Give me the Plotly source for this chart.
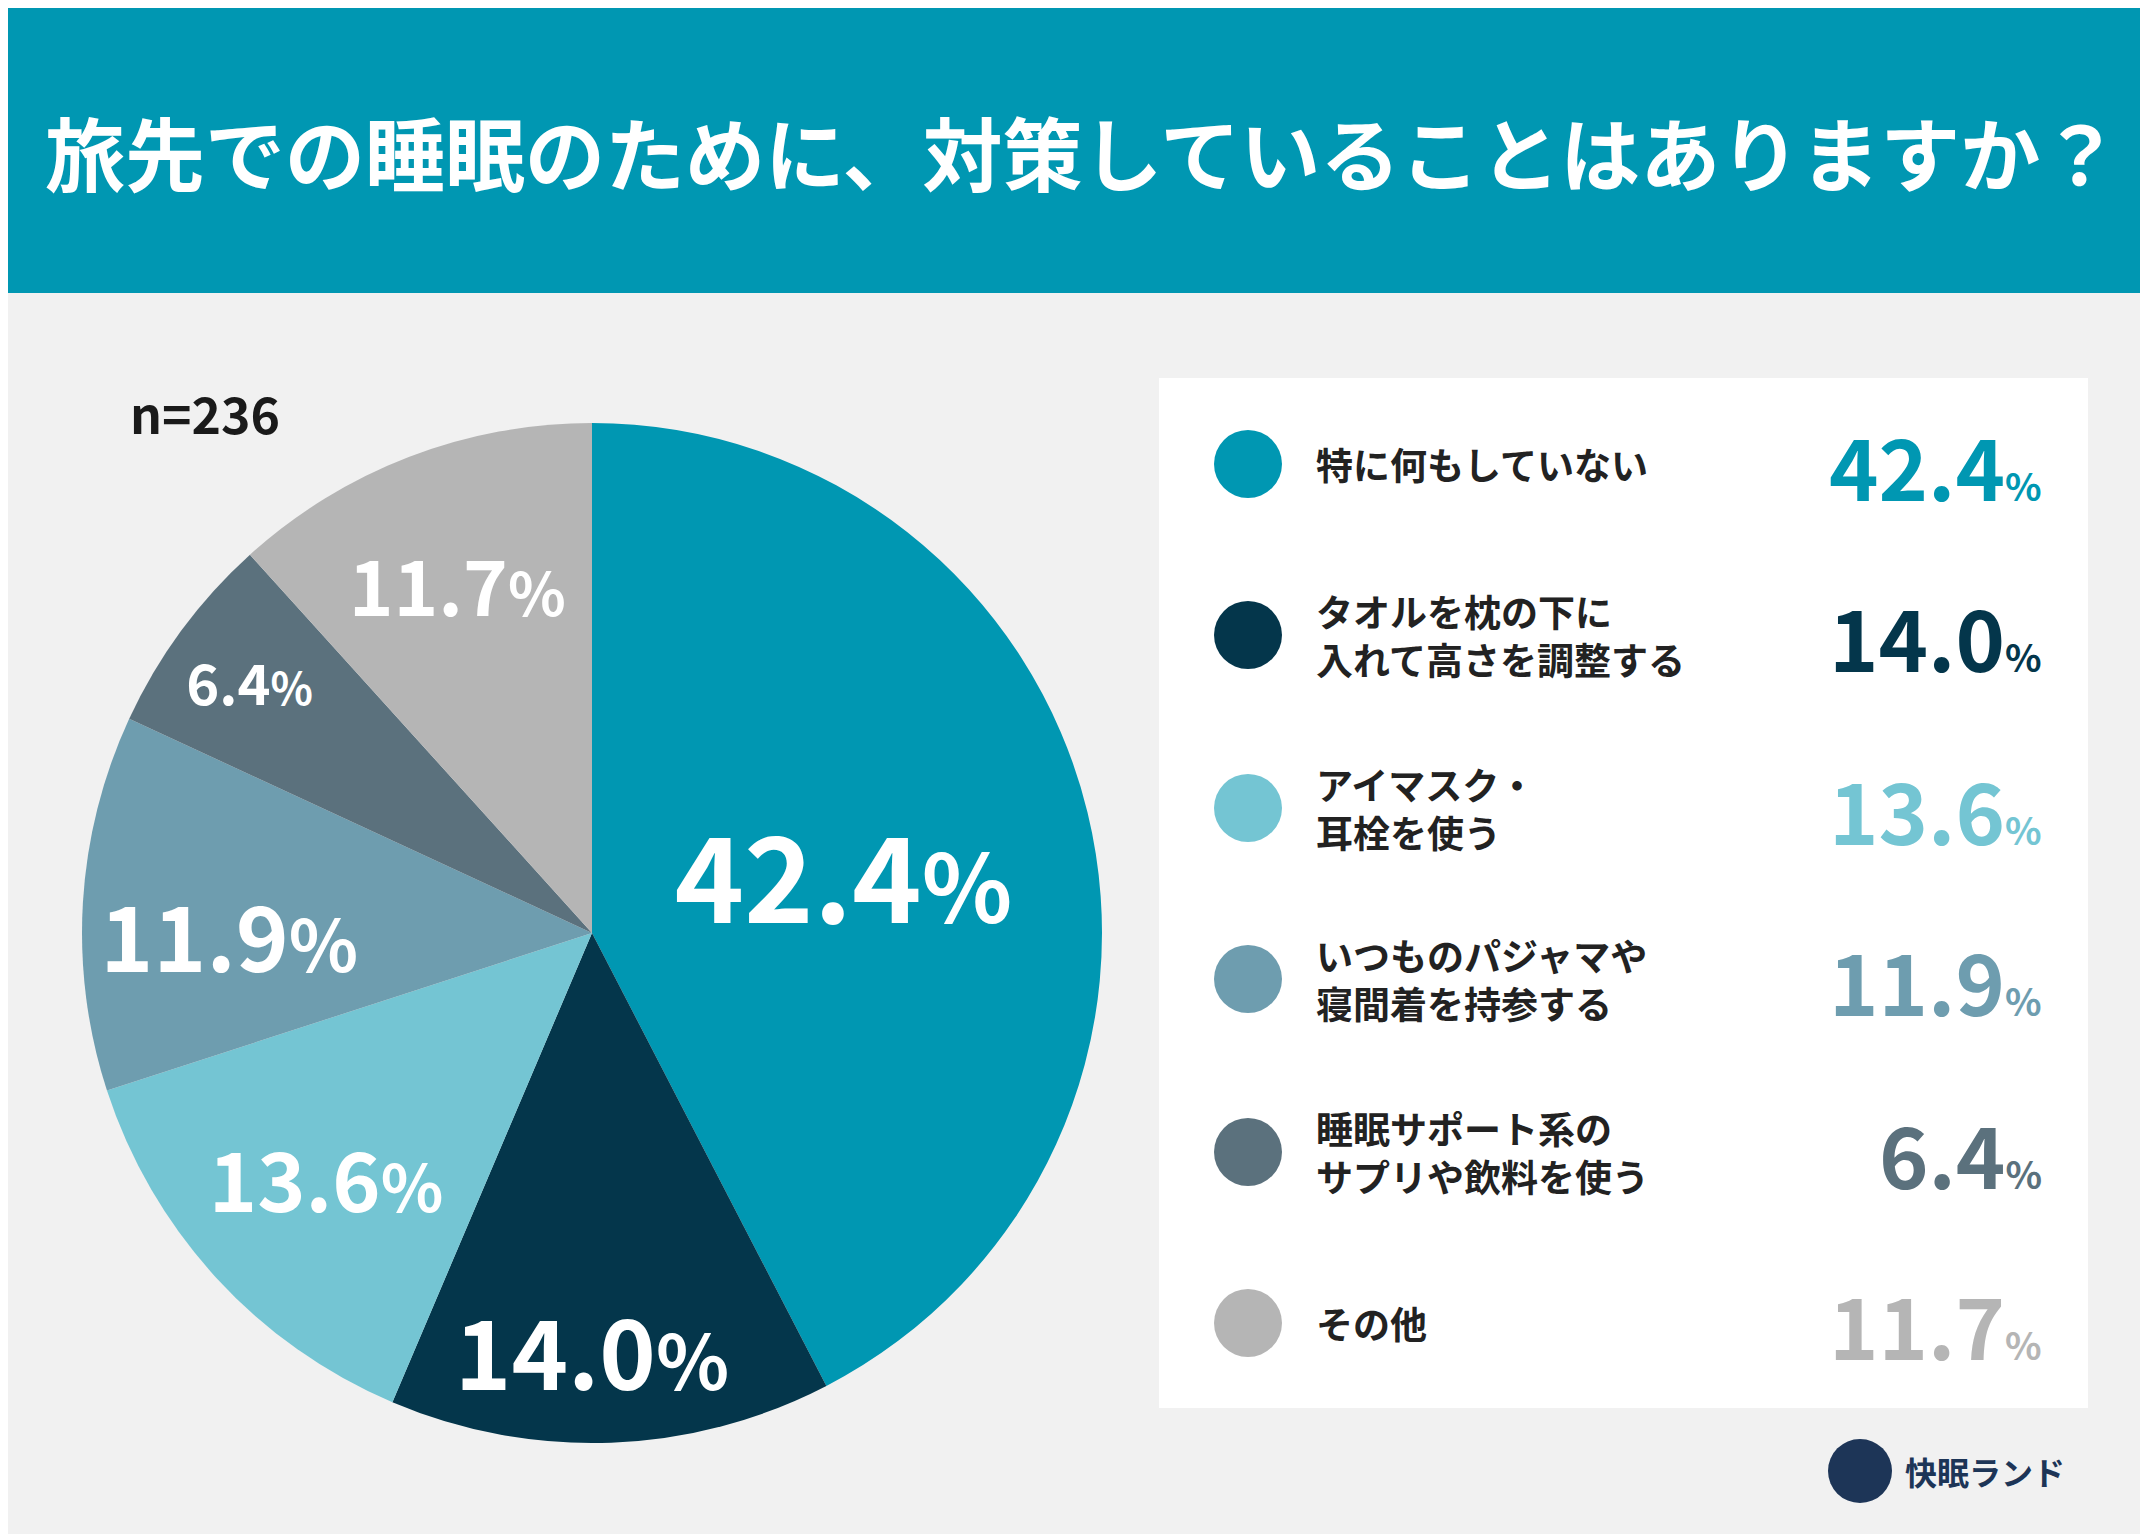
import plotly.graph_objects as go

W, H = 2148, 1534
FONT = "Noto Sans CJK JP"

title = "旅先での睡眠のために、対策していることはありますか？"
sample = "n=236"
labels = ["特に何もしていない", "タオルを枕の下に<br>入れて高さを調整する", "アイマスク・<br>耳栓を使う",
          "いつものパジャマや<br>寝間着を持参する", "睡眠サポート系の<br>サプリや飲料を使う", "その他"]
values = [42.4, 14.0, 13.6, 11.9, 6.4, 11.7]
colors = ["#0097B2", "#04364B", "#74C5D3", "#6E9DAF", "#5B717D", "#B5B5B5"]
pie_sizes = [118, 96, 82, 90, 56, 76]

fig = go.Figure()

def px_x(x):
    return x / W

def px_y(y):
    return 1 - y / H

pie_text = [f"{v:.1f}<span style='font-size:{int(s*0.8)}px'>%</span>" for v, s in zip(values, pie_sizes)]
fig.add_trace(go.Pie(
    values=values, labels=[l.replace("<br>", "") for l in labels],
    text=pie_text, textinfo="text", textposition="inside",
    insidetextorientation="horizontal",
    marker=dict(colors=colors, line=dict(width=0)),
    textfont=dict(family=FONT, size=pie_sizes, color="white", weight="bold"),
    sort=False, direction="clockwise", rotation=0, hole=0,
    domain=dict(x=[px_x(74), px_x(1094)], y=[px_y(1435), px_y(415)]),
    showlegend=False, hoverinfo="skip",
))

shapes = [
    dict(type="rect", xref="paper", yref="paper", x0=0, x1=1, y0=px_y(285), y1=1,
         fillcolor="#0097B2", line=dict(width=0), layer="below"),
    dict(type="rect", xref="paper", yref="paper", x0=px_x(1151), x1=px_x(2080),
         y0=px_y(1400), y1=px_y(370), fillcolor="white", line=dict(width=0), layer="below"),
]

def note(text, x, y, size, color, xanchor="left", align="left"):
    return dict(text=text, x=px_x(x), y=px_y(y), xref="paper", yref="paper",
                xanchor=xanchor, yanchor="middle", align=align, showarrow=False,
                font=dict(family=FONT, size=size, color=color))

annotations = [
    note(f"<b>{title}</b>", W / 2, 142, 80, "white", xanchor="center", align="center"),
    note(f"<b>{sample}</b>", 120, 404, 50, "#1a1a1a"),
    note("<b>快眠ランド</b>", 1895, 1463, 32, "#1d3557"),
]
shapes.append(dict(type="circle", xref="paper", yref="paper", x0=px_x(1820), x1=px_x(1884),
                   y0=px_y(1495), y1=px_y(1431), fillcolor="#1d3557", line=dict(width=0)))

row_y = [456, 627, 800, 971, 1144, 1315]
for lab, v, c, y in zip(labels, values, colors, row_y):
    shapes.append(dict(type="circle", xref="paper", yref="paper",
                       x0=px_x(1206), x1=px_x(1274), y0=px_y(y + 34), y1=px_y(y - 34),
                       fillcolor=c, line=dict(width=0)))
    annotations.append(note(f"<b>{lab}</b>", 1306, y, 37, "#222222"))
    annotations.append(note(f"<b>{v:.1f}<span style='font-size:38px'>%</span></b>",
                            2036, y, 84, c, xanchor="right", align="right"))

fig.update_layout(
    width=W, height=H, margin=dict(l=0, r=0, t=0, b=0),
    paper_bgcolor="#F1F1F1", plot_bgcolor="#F1F1F1",
    shapes=shapes, annotations=annotations,
)
fig.write_html("out.html")
